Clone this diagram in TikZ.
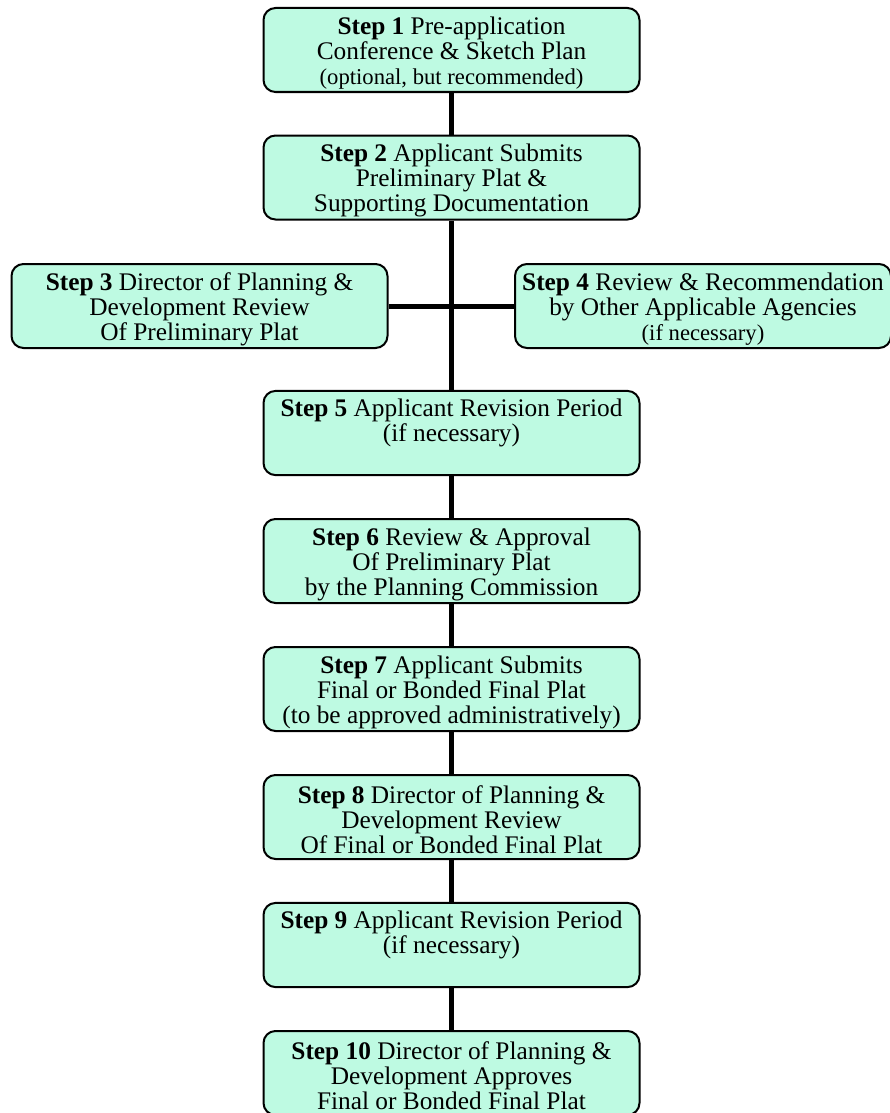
\documentclass[tikz,border=0pt]{standalone}
\usepackage{fontspec}
\setmainfont{Liberation Serif}
\definecolor{stepfill}{RGB}{190,250,226}
\tikzset{stepbox/.style={draw,line width=1.5pt,rounded corners=9pt,fill=stepfill,
    minimum width=282pt,minimum height=63pt,align=center,inner sep=1pt,
    font=\fontsize{19}{18.75}\selectfont},
  link/.style={line width=3.75pt}}
\newcommand{\smalltxt}[1]{{\fontsize{17}{18.75}\selectfont #1}}
\newcommand{\stepno}[1]{\rule{0pt}{18pt}\textbf{Step #1}}
\begin{document}
\begin{tikzpicture}[x=0.75pt,y=-0.75pt]
\useasboundingbox (0,0) rectangle (889,1113);
\node[stepbox](s1) at (451.5,50) {\stepno{1} Pre-application\\Conference \& Sketch Plan\\\smalltxt{(optional, but recommended)}};
\node[stepbox](s2) at (451.5,177.5) {\stepno{2} Applicant Submits\\Preliminary Plat \&\\Supporting Documentation};
\node[stepbox](s3) at (199.5,306) {\stepno{3} Director of Planning \&\\Development Review\\Of Preliminary Plat};
\node[stepbox](s4) at (703,306) {\stepno{4} Review \& Recommendation\\by Other Applicable Agencies\\\smalltxt{(if necessary)}};
\node[stepbox](s5) at (451.5,433) {\stepno{5} Applicant Revision Period\\(if necessary)\\\strut};
\node[stepbox](s6) at (451.5,561) {\stepno{6} Review \& Approval\\Of Preliminary Plat\\by the Planning Commission};
\node[stepbox](s7) at (451.5,689) {\stepno{7} Applicant Submits\\Final or Bonded Final Plat\\(to be approved administratively)};
\node[stepbox](s8) at (451.5,817) {\stepno{8} Director of Planning \&\\Development Review\\Of Final or Bonded Final Plat};
\node[stepbox](s9) at (451.5,945) {\stepno{9} Applicant Revision Period\\(if necessary)\\\strut};
\node[stepbox](s10) at (451.5,1073) {\stepno{10} Director of Planning \&\\Development Approves\\Final or Bonded Final Plat};
% connectors
\draw[link](s1)--(s2) (s2)--(s5) (s3)--(s4) (s5)--(s6) (s6)--(s7) (s7)--(s8) (s8)--(s9) (s9)--(s10);
\end{tikzpicture}
\end{document}
